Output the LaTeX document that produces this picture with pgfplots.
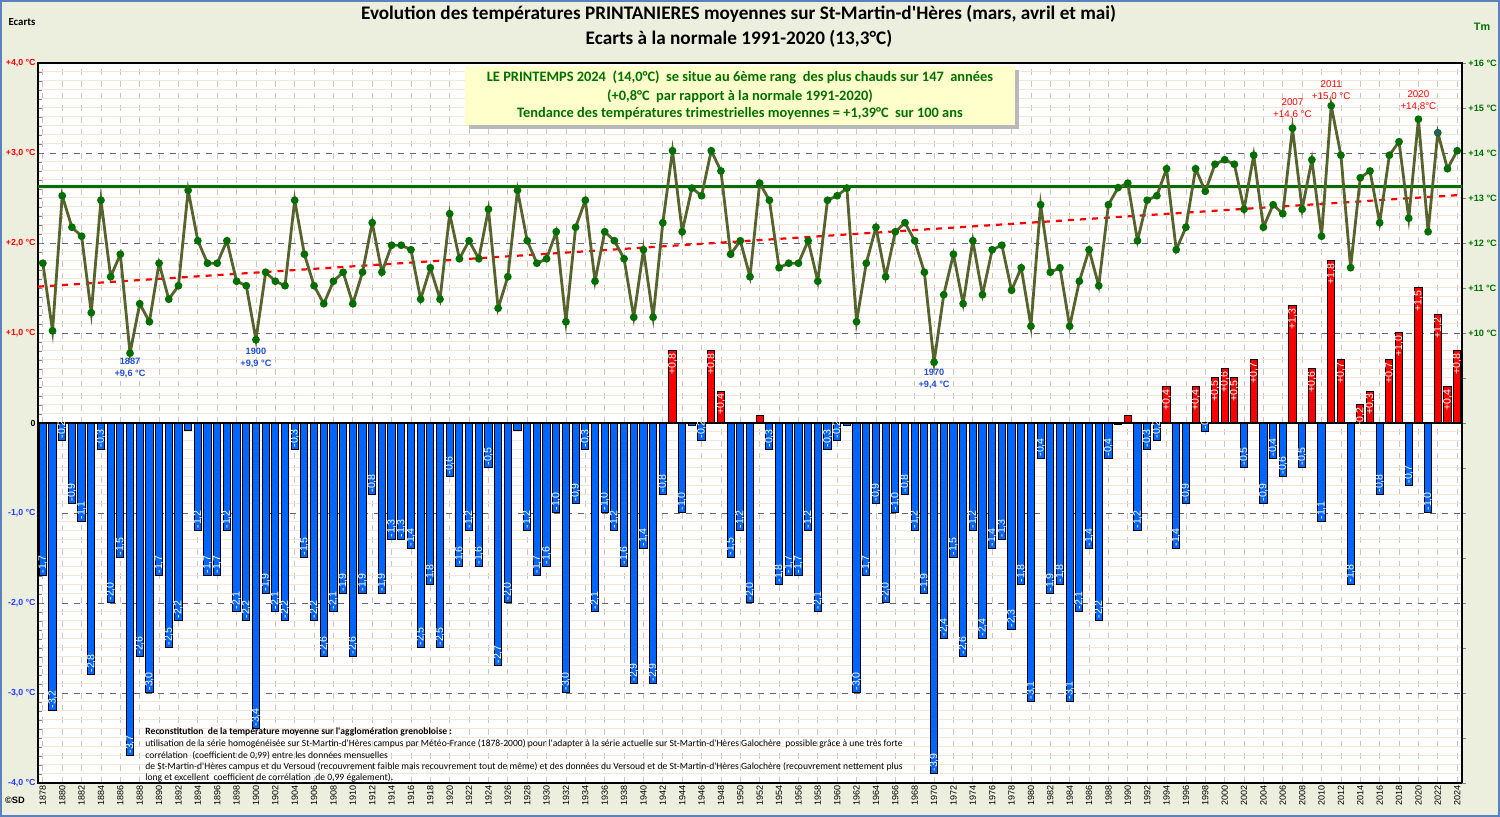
\documentclass[border=0pt]{standalone}
\usepackage{fontspec}
\setmainfont{Carlito}
\newfontfamily\arialf{Liberation Sans}
\usepackage{pgfplots}
\usepackage{pgfplotstable}
\pgfplotsset{compat=1.18}
\definecolor{bgc}{RGB}{236,239,222}
\definecolor{barblue}{RGB}{0,102,255}
\definecolor{barred}{RGB}{255,0,0}
\definecolor{olivel}{RGB}{84,100,44}
\definecolor{dkgreen}{RGB}{0,110,0}
\definecolor{txtgreen}{RGB}{0,112,0}
\definecolor{negblue}{RGB}{40,60,255}
\definecolor{annblue}{RGB}{30,80,220}
\definecolor{peach}{RGB}{252,228,212}
\definecolor{boxc}{RGB}{255,255,204}
\definecolor{framec}{RGB}{90,130,190}
\definecolor{pt22}{RGB}{50,90,120}
\newcommand{\q}{\textquotesingle}

% annee, ecart a la normale, Tm, etiquette
\pgfplotstableread{
year ecart tm lab
1878 -1.7 11.55 -1,7
1879 -3.2 10.05 -3,2
1880 -0.2 13.05 -0,2
1881 -0.9 12.35 -0,9
1882 -1.1 12.15 -1,1
1883 -2.8 10.45 -2,8
1884 -0.3 12.95 -0,3
1885 -2.0 11.25 -2,0
1886 -1.5 11.75 -1,5
1887 -3.7 9.55 -3,7
1888 -2.6 10.65 -2,6
1889 -3.0 10.25 -3,0
1890 -1.7 11.55 -1,7
1891 -2.5 10.75 -2,5
1892 -2.2 11.05 -2,2
1893 -0.08 13.17 {}
1894 -1.2 12.05 -1,2
1895 -1.7 11.55 -1,7
1896 -1.7 11.55 -1,7
1897 -1.2 12.05 -1,2
1898 -2.1 11.15 -2,1
1899 -2.2 11.05 -2,2
1900 -3.4 9.85 -3,4
1901 -1.9 11.35 -1,9
1902 -2.1 11.15 -2,1
1903 -2.2 11.05 -2,2
1904 -0.3 12.95 -0,3
1905 -1.5 11.75 -1,5
1906 -2.2 11.05 -2,2
1907 -2.6 10.65 -2,6
1908 -2.1 11.15 -2,1
1909 -1.9 11.35 -1,9
1910 -2.6 10.65 -2,6
1911 -1.9 11.35 -1,9
1912 -0.8 12.45 -0,8
1913 -1.9 11.35 -1,9
1914 -1.3 11.95 -1,3
1915 -1.3 11.95 -1,3
1916 -1.4 11.85 -1,4
1917 -2.5 10.75 -2,5
1918 -1.8 11.45 -1,8
1919 -2.5 10.75 -2,5
1920 -0.6 12.65 -0,6
1921 -1.6 11.65 -1,6
1922 -1.2 12.05 -1,2
1923 -1.6 11.65 -1,6
1924 -0.5 12.75 -0,5
1925 -2.7 10.55 -2,7
1926 -2.0 11.25 -2,0
1927 -0.08 13.17 {}
1928 -1.2 12.05 -1,2
1929 -1.7 11.55 -1,7
1930 -1.6 11.65 -1,6
1931 -1.0 12.25 -1,0
1932 -3.0 10.25 -3,0
1933 -0.9 12.35 -0,9
1934 -0.3 12.95 -0,3
1935 -2.1 11.15 -2,1
1936 -1.0 12.25 -1,0
1937 -1.2 12.05 -1,2
1938 -1.6 11.65 -1,6
1939 -2.9 10.35 -2,9
1940 -1.4 11.85 -1,4
1941 -2.9 10.35 -2,9
1942 -0.8 12.45 -0,8
1943 0.8 14.05 +0,8
1944 -1.0 12.25 -1,0
1945 -0.03 13.22 {}
1946 -0.2 13.05 -0,2
1947 0.8 14.05 +0,8
1948 0.35 13.60 +0,4
1949 -1.5 11.75 -1,5
1950 -1.2 12.05 -1,2
1951 -2.0 11.25 -2,0
1952 0.08 13.33 {}
1953 -0.3 12.95 -0,3
1954 -1.8 11.45 -1,8
1955 -1.7 11.55 -1,7
1956 -1.7 11.55 -1,7
1957 -1.2 12.05 -1,2
1958 -2.1 11.15 -2,1
1959 -0.3 12.95 -0,3
1960 -0.2 13.05 -0,2
1961 -0.03 13.22 {}
1962 -3.0 10.25 -3,0
1963 -1.7 11.55 -1,7
1964 -0.9 12.35 -0,9
1965 -2.0 11.25 -2,0
1966 -1.0 12.25 -1,0
1967 -0.8 12.45 -0,8
1968 -1.2 12.05 -1,2
1969 -1.9 11.35 -1,9
1970 -3.9 9.35 -3,9
1971 -2.4 10.85 -2,4
1972 -1.5 11.75 -1,5
1973 -2.6 10.65 -2,6
1974 -1.2 12.05 -1,2
1975 -2.4 10.85 -2,4
1976 -1.4 11.85 -1,4
1977 -1.3 11.95 -1,3
1978 -2.3 10.95 -2,3
1979 -1.8 11.45 -1,8
1980 -3.1 10.15 -3,1
1981 -0.4 12.85 -0,4
1982 -1.9 11.35 -1,9
1983 -1.8 11.45 -1,8
1984 -3.1 10.15 -3,1
1985 -2.1 11.15 -2,1
1986 -1.4 11.85 -1,4
1987 -2.2 11.05 -2,2
1988 -0.4 12.85 -0,4
1989 -0.02 13.23 {}
1990 0.08 13.33 {}
1991 -1.2 12.05 -1,2
1992 -0.3 12.95 -0,3
1993 -0.2 13.05 -0,2
1994 0.4 13.65 +0,4
1995 -1.4 11.85 -1,4
1996 -0.9 12.35 -0,9
1997 0.4 13.65 +0,4
1998 -0.1 13.15 -0,1
1999 0.5 13.75 +0,5
2000 0.6 13.85 +0,6
2001 0.5 13.75 +0,5
2002 -0.5 12.75 -0,5
2003 0.7 13.95 +0,7
2004 -0.9 12.35 -0,9
2005 -0.4 12.85 -0,4
2006 -0.6 12.65 -0,6
2007 1.3 14.55 +1,3
2008 -0.5 12.75 -0,5
2009 0.6 13.85 +0,6
2010 -1.1 12.15 -1,1
2011 1.8 15.05 +1,8
2012 0.7 13.95 +0,7
2013 -1.8 11.45 -1,8
2014 0.2 13.45 +0,2
2015 0.35 13.60 +0,3
2016 -0.8 12.45 -0,8
2017 0.7 13.95 +0,7
2018 1.0 14.25 +1,0
2019 -0.7 12.55 -0,7
2020 1.5 14.75 +1,5
2021 -1.0 12.25 -1,0
2022 1.2 14.45 +1,2
2023 0.4 13.65 +0,4
2024 0.8 14.05 +0,8
}\springdata

\begin{document}
\begin{tikzpicture}[x=1pt,y=1pt]
\fill[bgc] (-19,-17) rectangle (731,391.5);
\draw[framec, line width=0.8pt] (-18.6,-16.6) rectangle (730.6,391.1);

\begin{axis}[
  at={(0,0)}, anchor=south west,
  scale only axis, width=712pt, height=360pt,
  xmin=1877.5, xmax=2024.5, ymin=-4, ymax=4,
  axis background/.style={fill=white},
  axis line style={black, line width=0.6pt},
  xtick={1878,1880,...,2024},
  xticklabel={\pgfmathtruncatemacro{\yr}{\tick+0.5}\yr},
  xticklabel style={rotate=90, anchor=east, font=\arialf\fontsize{4.5}{5}\selectfont, inner sep=1pt},
  xtick pos=bottom, xtick style={draw=none},
  ytick={-4,...,4},
  yticklabels={{\color{negblue}-4,0 °C},{\color{negblue}-3,0 °C},{\color{negblue}-2,0 °C},{\color{negblue}-1,0 °C},0,{\color{barred}+1,0 °C},{\color{barred}+2,0 °C},{\color{barred}+3,0 °C},{\color{barred}+4,0 °C}},
  yticklabel style={font=\arialf\bfseries\fontsize{4.4}{5}\selectfont, inner sep=1pt},
  ytick pos=left, tick align=inside,
  minor y tick num=9,
  major tick length=2pt, minor tick length=2pt,
  ymajorgrids, yminorgrids, xmajorgrids,
  major y grid style={dashed, gray!80!black, line width=0.4pt},
  minor y grid style={peach, line width=0.5pt},
  major x grid style={dashed, gray!45, line width=0.4pt},
  clip=false,
]
\addplot[ybar, bar width=3.6pt, bar shift=0pt, draw=black, line width=0.5pt, fill=barblue,
  restrict y to domain=-10:0,
  point meta=explicit symbolic, nodes near coords,
  every node near coord/.append style={rotate=90, anchor=west, text=white, inner sep=1pt,
    font=\arialf\fontsize{5.3}{6}\selectfont}]
  table[x=year, y=ecart, meta=lab] {\springdata};
\addplot[ybar, bar width=3.6pt, bar shift=0pt, draw=black, line width=0.5pt, fill=barred,
  restrict y to domain=0:10,
  point meta=explicit symbolic, nodes near coords,
  every node near coord/.append style={rotate=90, anchor=east, text=white, inner sep=1pt,
    font=\arialf\fontsize{5.3}{6}\selectfont}]
  table[x=year, y=ecart, meta=lab] {\springdata};
\addplot[black, line width=1pt, no marks] coordinates {(1877.5,0) (2024.5,0)};

\node[annblue, align=center, font=\arialf\bfseries\fontsize{4.6}{6}\selectfont] at (axis cs:1887,0.61) {1887\\+9,6 °C};
\node[annblue, align=center, font=\arialf\bfseries\fontsize{4.6}{6}\selectfont] at (axis cs:1900,0.72) {1900\\+9,9 °C};
\node[annblue, align=center, font=\arialf\bfseries\fontsize{4.6}{6}\selectfont] at (axis cs:1970,0.49) {1970\\+9,4 °C};
\node[barred, align=center, font=\arialf\fontsize{4.9}{6}\selectfont] at (axis cs:2007,3.49) {2007\\+14,6 °C};
\node[barred, align=center, font=\arialf\fontsize{4.9}{6}\selectfont] at (axis cs:2011,3.69) {2011\\+15,0 °C};
\node[barred, align=center, font=\arialf\fontsize{4.9}{6}\selectfont] at (axis cs:2020,3.58) {2020\\+14,8°C};
\end{axis}

\begin{axis}[
  at={(0,0)}, anchor=south west,
  scale only axis, width=712pt, height=360pt,
  xmin=1877.5, xmax=2024.5, ymin=0, ymax=16,
  axis y line*=right, axis x line=none,
  axis line style={black, line width=0.6pt},
  ytick={0,...,16},
  yticklabels={,,,,,,,,,,{+10 °C},{+11 °C},{+12 °C},{+13 °C},{+14 °C},{+15 °C},{+16 °C}},
  yticklabel style={font=\arialf\bfseries\fontsize{4.6}{6}\selectfont, text=txtgreen, inner sep=1pt},
  tick align=outside, major tick length=2pt,
]
\addplot[dkgreen, line width=1.3pt, no marks] coordinates {(1877.5,13.25) (2024.5,13.25)};
\addplot[barred, line width=1.1pt, dashed, no marks] coordinates {(1877.5,11.03) (2024.5,13.07)};
\addplot[olivel, line width=1.4pt, mark=*, mark size=1.2pt, mark options={fill=dkgreen, draw=dkgreen}]
  table[x=year, y=tm] {\springdata};
\addplot[only marks, mark=*, mark size=1.2pt, mark options={fill=pt22, draw=pt22}] coordinates {(2022,14.45)};
\end{axis}

% titre
\node[font=\bfseries\fontsize{9.6}{11}\selectfont] at (350.3,384.5) {Evolution des températures PRINTANIERES moyennes sur St-Martin-d\q Hères (mars, avril et mai)};
\node[font=\bfseries\fontsize{9.6}{11}\selectfont] at (350.5,372) {Ecarts à la normale 1991-2020 (13,3°C)};
\node[font=\bfseries\fontsize{5.4}{6}\selectfont] at (-8,380.5) {Ecarts};
\node[font=\arialf\bfseries\fontsize{5.4}{6}\selectfont, text=txtgreen] at (722,378) {Tm};

% encadre
\fill[gray!55] (215.5,327) rectangle (490.5,356.5);
\fill[boxc] (213.5,329) rectangle (488.5,358.5);
\begin{scope}[every node/.style={font=\bfseries\fontsize{7.2}{8}\selectfont, text=txtgreen}]
\node at (351,353) {LE PRINTEMPS 2024\ \ (14,0°C)\ \ se situe au 6ème rang\ \ des plus chauds sur 147\ \ années};
\node at (351,343.5) {(+0,8°C\ \ par rapport à la normale 1991-2020)};
\node at (351,334.5) {Tendance des températures trimestrielles moyennes = +1,39°C\ \ sur 100 ans};
\end{scope}

% note
\begin{scope}[every node/.style={anchor=west, inner sep=0pt, font=\fontsize{4.8}{5}\selectfont}]
\node[font=\bfseries\fontsize{4.8}{5}\selectfont] at (53.5,25.5) {Reconstitution\ \ de la température moyenne sur l\q agglomération grenobloise :};
\node at (53.5,19.5) {utilisation de la série homogénéisée sur St-Martin-d\q Hères campus par Météo-France (1878-2000) pour l\q adapter à la série actuelle sur St-Martin-d\q Hères Galochère\ \ possible grâce à une très forte};
\node at (53.5,13.5) {corrélation\ \ (coefficient de 0,99) entre les données mensuelles};
\node at (53.5,8) {de St-Martin-d\q Hères campus et du Versoud (recouvrement faible mais recouvrement tout de même) et des données du Versoud et de St-Martin-d\q Hères Galochère (recouvrement nettement plus};
\node at (53.5,2.5) {long et excellent\ \ coefficient de corrélation\ \ de 0,99 également).};
\end{scope}
\node[font=\arialf\bfseries\fontsize{4.6}{5}\selectfont] at (-11.5,-8.5) {©SD};

\pgfresetboundingbox
\useasboundingbox (-19,-17) rectangle (731,391.5);
\end{tikzpicture}
\end{document}
